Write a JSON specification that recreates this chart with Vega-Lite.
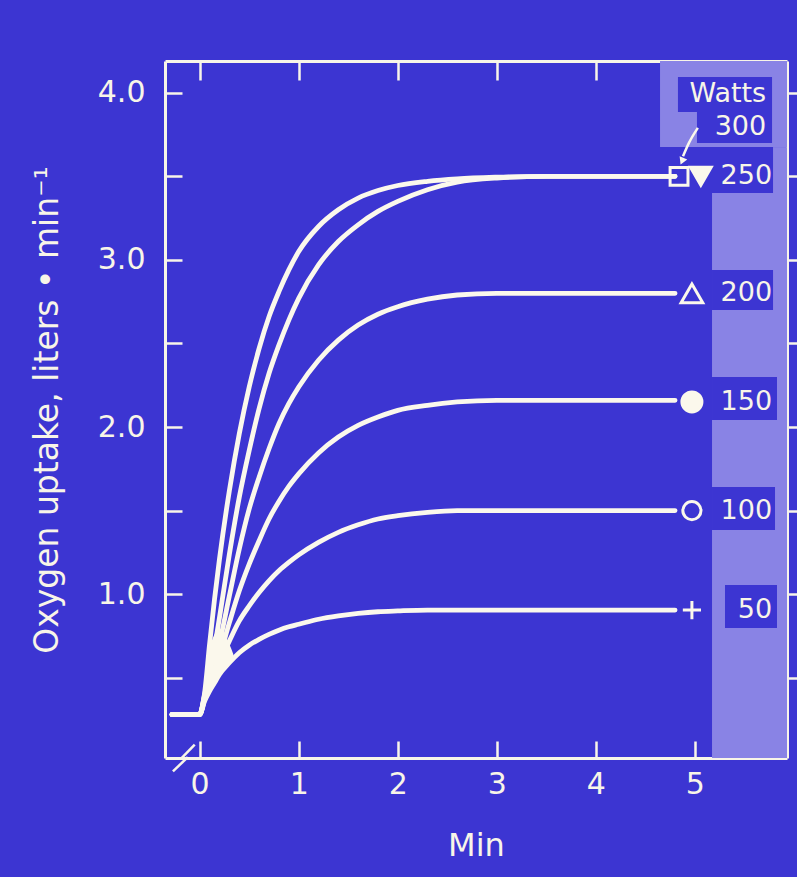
{
  "$schema": "https://vega.github.io/schema/vega-lite/v6.json",
  "width": 622,
  "height": 697,
  "autosize": {"type": "none"},
  "padding": {"left": 165, "top": 61, "right": 10, "bottom": 119},
  "background": "#3c35d2",
  "config": {
    "view": {"stroke": null},
    "font": "DejaVu Sans",
    "axis": {
      "domainColor": "#f8f5e8",
      "domainWidth": 3,
      "tickColor": "#f8f5e8",
      "tickWidth": 2.5,
      "labelColor": "#f8f5e8",
      "titleColor": "#f8f5e8",
      "labelFont": "DejaVu Sans",
      "titleFont": "DejaVu Sans",
      "titleFontWeight": "normal",
      "grid": false,
      "zindex": 1
    }
  },
  "datasets": {
    "curves": [
      {"w":"300","t":-0.28,"v":0.28},{"w":"300","t":0,"v":0.28},{"w":"300","t":0.05,"v":0.41},{"w":"300","t":0.1,"v":0.70},{"w":"300","t":0.15,"v":0.97},{"w":"300","t":0.2,"v":1.21},{"w":"300","t":0.3,"v":1.62},{"w":"300","t":0.4,"v":1.96},{"w":"300","t":0.5,"v":2.24},{"w":"300","t":0.6,"v":2.47},{"w":"300","t":0.7,"v":2.66},{"w":"300","t":0.8,"v":2.81},{"w":"300","t":0.9,"v":2.94},{"w":"300","t":1.0,"v":3.05},{"w":"300","t":1.2,"v":3.20},{"w":"300","t":1.4,"v":3.30},{"w":"300","t":1.6,"v":3.37},{"w":"300","t":1.8,"v":3.415},{"w":"300","t":2.0,"v":3.445},{"w":"300","t":2.3,"v":3.47},{"w":"300","t":2.6,"v":3.485},{"w":"300","t":3.0,"v":3.495},{"w":"300","t":3.5,"v":3.50},{"w":"300","t":4.0,"v":3.50},{"w":"300","t":4.8,"v":3.50},
      {"w":"250","t":-0.28,"v":0.28},{"w":"250","t":0,"v":0.28},{"w":"250","t":0.05,"v":0.40},{"w":"250","t":0.1,"v":0.53},{"w":"250","t":0.15,"v":0.68},{"w":"250","t":0.2,"v":0.86},{"w":"250","t":0.3,"v":1.24},{"w":"250","t":0.4,"v":1.58},{"w":"250","t":0.5,"v":1.86},{"w":"250","t":0.6,"v":2.11},{"w":"250","t":0.7,"v":2.32},{"w":"250","t":0.8,"v":2.49},{"w":"250","t":0.9,"v":2.64},{"w":"250","t":1.0,"v":2.77},{"w":"250","t":1.2,"v":2.97},{"w":"250","t":1.4,"v":3.11},{"w":"250","t":1.6,"v":3.21},{"w":"250","t":1.8,"v":3.29},{"w":"250","t":2.0,"v":3.35},{"w":"250","t":2.3,"v":3.42},{"w":"250","t":2.6,"v":3.465},{"w":"250","t":3.0,"v":3.49},{"w":"250","t":3.5,"v":3.50},{"w":"250","t":4.0,"v":3.50},{"w":"250","t":4.8,"v":3.50},
      {"w":"200","t":-0.28,"v":0.28},{"w":"200","t":0,"v":0.28},{"w":"200","t":0.05,"v":0.39},{"w":"200","t":0.1,"v":0.49},{"w":"200","t":0.15,"v":0.60},{"w":"200","t":0.2,"v":0.71},{"w":"200","t":0.3,"v":0.99},{"w":"200","t":0.4,"v":1.27},{"w":"200","t":0.5,"v":1.51},{"w":"200","t":0.6,"v":1.70},{"w":"200","t":0.7,"v":1.87},{"w":"200","t":0.8,"v":2.02},{"w":"200","t":0.9,"v":2.14},{"w":"200","t":1.0,"v":2.24},{"w":"200","t":1.2,"v":2.40},{"w":"200","t":1.4,"v":2.52},{"w":"200","t":1.6,"v":2.61},{"w":"200","t":1.8,"v":2.675},{"w":"200","t":2.0,"v":2.72},{"w":"200","t":2.3,"v":2.765},{"w":"200","t":2.6,"v":2.79},{"w":"200","t":3.0,"v":2.80},{"w":"200","t":3.5,"v":2.80},{"w":"200","t":4.0,"v":2.80},{"w":"200","t":4.8,"v":2.80},
      {"w":"150","t":-0.28,"v":0.28},{"w":"150","t":0,"v":0.28},{"w":"150","t":0.05,"v":0.38},{"w":"150","t":0.1,"v":0.46},{"w":"150","t":0.15,"v":0.55},{"w":"150","t":0.2,"v":0.63},{"w":"150","t":0.3,"v":0.83},{"w":"150","t":0.4,"v":1.02},{"w":"150","t":0.5,"v":1.18},{"w":"150","t":0.6,"v":1.32},{"w":"150","t":0.7,"v":1.45},{"w":"150","t":0.8,"v":1.555},{"w":"150","t":0.9,"v":1.645},{"w":"150","t":1.0,"v":1.72},{"w":"150","t":1.2,"v":1.845},{"w":"150","t":1.4,"v":1.94},{"w":"150","t":1.6,"v":2.01},{"w":"150","t":1.8,"v":2.06},{"w":"150","t":2.0,"v":2.10},{"w":"150","t":2.3,"v":2.13},{"w":"150","t":2.6,"v":2.15},{"w":"150","t":3.0,"v":2.16},{"w":"150","t":3.5,"v":2.16},{"w":"150","t":4.0,"v":2.16},{"w":"150","t":4.8,"v":2.16},
      {"w":"100","t":-0.28,"v":0.28},{"w":"100","t":0,"v":0.28},{"w":"100","t":0.05,"v":0.37},{"w":"100","t":0.1,"v":0.44},{"w":"100","t":0.15,"v":0.52},{"w":"100","t":0.2,"v":0.59},{"w":"100","t":0.3,"v":0.72},{"w":"100","t":0.4,"v":0.84},{"w":"100","t":0.5,"v":0.93},{"w":"100","t":0.6,"v":1.01},{"w":"100","t":0.7,"v":1.08},{"w":"100","t":0.8,"v":1.14},{"w":"100","t":0.9,"v":1.19},{"w":"100","t":1.0,"v":1.235},{"w":"100","t":1.2,"v":1.31},{"w":"100","t":1.4,"v":1.37},{"w":"100","t":1.6,"v":1.415},{"w":"100","t":1.8,"v":1.45},{"w":"100","t":2.0,"v":1.47},{"w":"100","t":2.3,"v":1.49},{"w":"100","t":2.6,"v":1.50},{"w":"100","t":3.0,"v":1.50},{"w":"100","t":3.5,"v":1.50},{"w":"100","t":4.0,"v":1.50},{"w":"100","t":4.8,"v":1.50},
      {"w":"50","t":-0.28,"v":0.28},{"w":"50","t":0,"v":0.28},{"w":"50","t":0.05,"v":0.36},{"w":"50","t":0.1,"v":0.42},{"w":"50","t":0.15,"v":0.47},{"w":"50","t":0.2,"v":0.52},{"w":"50","t":0.3,"v":0.59},{"w":"50","t":0.4,"v":0.65},{"w":"50","t":0.5,"v":0.695},{"w":"50","t":0.6,"v":0.73},{"w":"50","t":0.7,"v":0.76},{"w":"50","t":0.8,"v":0.785},{"w":"50","t":0.9,"v":0.805},{"w":"50","t":1.0,"v":0.82},{"w":"50","t":1.2,"v":0.85},{"w":"50","t":1.4,"v":0.87},{"w":"50","t":1.6,"v":0.885},{"w":"50","t":1.8,"v":0.895},{"w":"50","t":2.0,"v":0.90},{"w":"50","t":2.3,"v":0.905},{"w":"50","t":2.6,"v":0.905},{"w":"50","t":3.0,"v":0.905},{"w":"50","t":3.5,"v":0.905},{"w":"50","t":4.0,"v":0.905},{"w":"50","t":4.8,"v":0.905}
    ],
    "bundle": [
      {"t":0,"lo":0.28,"hi":0.29},
      {"t":0.05,"lo":0.36,"hi":0.41},
      {"t":0.1,"lo":0.42,"hi":0.66},
      {"t":0.15,"lo":0.47,"hi":0.76},
      {"t":0.2,"lo":0.52,"hi":0.79},
      {"t":0.25,"lo":0.555,"hi":0.76},
      {"t":0.3,"lo":0.59,"hi":0.70},
      {"t":0.34,"lo":0.615,"hi":0.64}
    ],
    "markers": [
      {"w":"50","t":4.97,"v":0.905},
      {"w":"100","t":4.97,"v":1.50},
      {"w":"150","t":4.97,"v":2.15},
      {"w":"200","t":4.97,"v":2.80},
      {"w":"300","t":4.84,"v":3.50},
      {"w":"250","t":5.06,"v":3.50}
    ],
    "labels": [
      {"label":"250","v":3.50},
      {"label":"200","v":2.80},
      {"label":"150","v":2.15},
      {"label":"100","v":1.50},
      {"label":"50","v":0.905}
    ],
    "header": [
      {"label":"Watts","v":3.99},
      {"label":"300","v":3.795}
    ],
    "arrow": [
      {"t":5.03,"v":3.79},
      {"t":4.94,"v":3.70},
      {"t":4.88,"v":3.62}
    ]
  },
  "resolve": {"axis": {"x": "independent", "y": "independent"}},
  "layer": [
    {
      "data": {"values": [{}]},
      "mark": {"type": "rect", "fill": "#8983e5"},
      "encoding": {
        "x": {"datum": 4.648, "type": "quantitative", "scale": {"domain": [-0.35, 5.93], "nice": false, "zero": false}, "axis": null},
        "x2": {"datum": 5.93},
        "y": {"datum": 3.675, "type": "quantitative", "scale": {"domain": [0.02, 4.19], "nice": false, "zero": false}, "axis": null},
        "y2": {"datum": 4.19}
      }
    },
    {
      "data": {"values": [{}]},
      "mark": {"type": "rect", "fill": "#8983e5"},
      "encoding": {
        "x": {"datum": 5.789, "type": "quantitative", "scale": {"domain": [-0.35, 5.93], "nice": false, "zero": false}, "axis": null},
        "x2": {"datum": 5.93},
        "y": {"datum": 3.40, "type": "quantitative", "scale": {"domain": [0.02, 4.19], "nice": false, "zero": false}, "axis": null},
        "y2": {"datum": 3.675}
      }
    },
    {
      "data": {"values": [{}]},
      "mark": {"type": "rect", "fill": "#8983e5"},
      "encoding": {
        "x": {"datum": 5.173, "type": "quantitative", "scale": {"domain": [-0.35, 5.93], "nice": false, "zero": false}, "axis": null},
        "x2": {"datum": 5.93},
        "y": {"datum": 0.02, "type": "quantitative", "scale": {"domain": [0.02, 4.19], "nice": false, "zero": false}, "axis": null},
        "y2": {"datum": 3.40}
      }
    },
    {
      "data": {"values": [{}]},
      "mark": {"type": "rect", "fill": "#3c35d2"},
      "encoding": {
        "x": {"datum": 4.829, "type": "quantitative", "scale": {"domain": [-0.35, 5.93], "nice": false, "zero": false}, "axis": null},
        "x2": {"datum": 5.779},
        "y": {"datum": 3.885, "type": "quantitative", "scale": {"domain": [0.02, 4.19], "nice": false, "zero": false}, "axis": null},
        "y2": {"datum": 4.094}
      }
    },
    {
      "data": {"values": [{}]},
      "mark": {"type": "rect", "fill": "#3c35d2"},
      "encoding": {
        "x": {"datum": 5.021, "type": "quantitative", "scale": {"domain": [-0.35, 5.93], "nice": false, "zero": false}, "axis": null},
        "x2": {"datum": 5.779},
        "y": {"datum": 3.699, "type": "quantitative", "scale": {"domain": [0.02, 4.19], "nice": false, "zero": false}, "axis": null},
        "y2": {"datum": 3.885}
      }
    },
    {
      "data": {"values": [{}]},
      "mark": {"type": "rect", "fill": "#3c35d2"},
      "encoding": {
        "x": {"datum": 5.173, "type": "quantitative", "scale": {"domain": [-0.35, 5.93], "nice": false, "zero": false}, "axis": null},
        "x2": {"datum": 5.789},
        "y": {"datum": 2.70, "type": "quantitative", "scale": {"domain": [0.02, 4.19], "nice": false, "zero": false}, "axis": null},
        "y2": {"datum": 2.94}
      }
    },
    {
      "data": {"values": [{}]},
      "mark": {"type": "rect", "fill": "#3c35d2"},
      "encoding": {
        "x": {"datum": 5.173, "type": "quantitative", "scale": {"domain": [-0.35, 5.93], "nice": false, "zero": false}, "axis": null},
        "x2": {"datum": 5.829},
        "y": {"datum": 2.042, "type": "quantitative", "scale": {"domain": [0.02, 4.19], "nice": false, "zero": false}, "axis": null},
        "y2": {"datum": 2.299}
      }
    },
    {
      "data": {"values": [{}]},
      "mark": {"type": "rect", "fill": "#3c35d2"},
      "encoding": {
        "x": {"datum": 5.173, "type": "quantitative", "scale": {"domain": [-0.35, 5.93], "nice": false, "zero": false}, "axis": null},
        "x2": {"datum": 5.809},
        "y": {"datum": 1.384, "type": "quantitative", "scale": {"domain": [0.02, 4.19], "nice": false, "zero": false}, "axis": null},
        "y2": {"datum": 1.641}
      }
    },
    {
      "data": {"values": [{}]},
      "mark": {"type": "rect", "fill": "#3c35d2"},
      "encoding": {
        "x": {"datum": 5.304, "type": "quantitative", "scale": {"domain": [-0.35, 5.93], "nice": false, "zero": false}, "axis": null},
        "x2": {"datum": 5.829},
        "y": {"datum": 0.798, "type": "quantitative", "scale": {"domain": [0.02, 4.19], "nice": false, "zero": false}, "axis": null},
        "y2": {"datum": 1.055}
      }
    },
    {
      "data": {"name": "bundle"},
      "mark": {"type": "area", "fill": "#fbf8ec", "interpolate": "monotone", "opacity": 1},
      "encoding": {
        "x": {"field": "t", "type": "quantitative", "scale": {"domain": [-0.35, 5.93], "nice": false, "zero": false}, "axis": null},
        "y": {"field": "lo", "type": "quantitative", "scale": {"domain": [0.02, 4.19], "nice": false, "zero": false}, "axis": null},
        "y2": {"field": "hi"}
      }
    },
    {
      "data": {"name": "curves"},
      "mark": {"type": "line", "stroke": "#fbf8ec", "strokeWidth": 4.8, "interpolate": "monotone", "strokeCap": "round", "strokeJoin": "round"},
      "encoding": {
        "x": {"field": "t", "type": "quantitative", "scale": {"domain": [-0.35, 5.93], "nice": false, "zero": false},
          "axis": {"orient": "bottom", "values": [0, 1, 2, 3, 4, 5], "format": "d", "tickSize": -17, "labelPadding": 28, "labelFontSize": 30, "title": "Min", "titleFontSize": 32, "titlePadding": 31}},
        "y": {"field": "v", "type": "quantitative", "scale": {"domain": [0.02, 4.19], "nice": false, "zero": false},
          "axis": {"orient": "left", "values": [0.5, 1, 1.5, 2, 2.5, 3, 3.5, 4], "labelExpr": "datum.value % 1 === 0 ? format(datum.value, '.1f') : ''", "tickSize": -17, "labelPadding": 37, "labelFontSize": 30, "title": "Oxygen uptake, liters • min⁻¹", "titleFontSize": 33, "titlePadding": 33}},
        "detail": {"field": "w", "type": "nominal"}
      }
    },
    {
      "data": {"name": "markers"},
      "mark": {"type": "point", "filled": true, "stroke": "#fbf8ec", "strokeWidth": 3, "opacity": 1},
      "encoding": {
        "x": {"field": "t", "type": "quantitative", "scale": {"domain": [-0.35, 5.93], "nice": false, "zero": false},
          "axis": {"orient": "top", "values": [0, 1, 2, 3, 4, 5], "tickSize": -19, "labels": false, "title": null}},
        "y": {"field": "v", "type": "quantitative", "scale": {"domain": [0.02, 4.19], "nice": false, "zero": false},
          "axis": {"orient": "right", "values": [0.5, 1, 1.5, 2, 2.5, 3, 3.5, 4], "tickSize": 10, "labels": false, "title": null}},
        "shape": {"field": "w", "type": "nominal", "legend": null,
          "scale": {"domain": ["50", "100", "150", "200", "250", "300"], "range": ["M-1,0H1M0,-1V1", "circle", "circle", "triangle-up", "triangle-down", "square"]}},
        "fill": {"field": "w", "type": "nominal", "legend": null,
          "scale": {"domain": ["50", "100", "150", "200", "250", "300"], "range": ["transparent", "transparent", "#fbf8ec", "transparent", "#fbf8ec", "transparent"]}},
        "size": {"field": "w", "type": "nominal", "legend": null,
          "scale": {"type": "ordinal", "domain": ["50", "100", "150", "200", "250", "300"], "range": [330, 330, 400, 470, 430, 320]}}
      }
    },
    {
      "data": {"name": "labels"},
      "mark": {"type": "text", "align": "right", "baseline": "middle", "fontSize": 27, "font": "DejaVu Sans", "fill": "#f8f5e8"},
      "encoding": {
        "x": {"datum": 5.78, "type": "quantitative", "scale": {"domain": [-0.35, 5.93], "nice": false, "zero": false}, "axis": null},
        "y": {"field": "v", "type": "quantitative", "scale": {"domain": [0.02, 4.19], "nice": false, "zero": false}, "axis": null},
        "text": {"field": "label"}
      }
    },
    {
      "data": {"name": "header"},
      "mark": {"type": "text", "align": "right", "baseline": "middle", "fontSize": 27, "font": "DejaVu Sans", "fill": "#f8f5e8"},
      "encoding": {
        "x": {"datum": 5.72, "type": "quantitative", "scale": {"domain": [-0.35, 5.93], "nice": false, "zero": false}, "axis": null},
        "y": {"field": "v", "type": "quantitative", "scale": {"domain": [0.02, 4.19], "nice": false, "zero": false}, "axis": null},
        "text": {"field": "label"}
      }
    },
    {
      "data": {"name": "arrow"},
      "mark": {"type": "line", "stroke": "#fbf8ec", "strokeWidth": 2.5, "interpolate": "monotone"},
      "encoding": {
        "x": {"field": "t", "type": "quantitative", "scale": {"domain": [-0.35, 5.93], "nice": false, "zero": false}, "axis": null},
        "y": {"field": "v", "type": "quantitative", "scale": {"domain": [0.02, 4.19], "nice": false, "zero": false}, "axis": null}
      }
    },
    {
      "data": {"values": [{}]},
      "mark": {"type": "point", "shape": "triangle-down", "filled": true, "fill": "#fbf8ec", "size": 70, "angle": 23, "opacity": 1},
      "encoding": {
        "x": {"datum": 4.87, "type": "quantitative", "scale": {"domain": [-0.35, 5.93], "nice": false, "zero": false}, "axis": null},
        "y": {"datum": 3.59, "type": "quantitative", "scale": {"domain": [0.02, 4.19], "nice": false, "zero": false}, "axis": null}
      }
    },
    {
      "data": {"values": [{}]},
      "mark": {"type": "rule", "stroke": "#f8f5e8", "strokeWidth": 2.5, "clip": false},
      "encoding": {
        "x": {"datum": -0.19, "type": "quantitative", "scale": {"domain": [-0.35, 5.93], "nice": false, "zero": false}, "axis": null},
        "x2": {"datum": -0.05},
        "y": {"datum": 0.015, "type": "quantitative", "scale": {"domain": [0.02, 4.19], "nice": false, "zero": false}, "axis": null},
        "y2": {"datum": 0.10}
      }
    },
    {
      "data": {"values": [{}]},
      "mark": {"type": "rule", "stroke": "#f8f5e8", "strokeWidth": 2.5, "clip": false},
      "encoding": {
        "x": {"datum": -0.27, "type": "quantitative", "scale": {"domain": [-0.35, 5.93], "nice": false, "zero": false}, "axis": null},
        "x2": {"datum": -0.12},
        "y": {"datum": -0.06, "type": "quantitative", "scale": {"domain": [0.02, 4.19], "nice": false, "zero": false}, "axis": null},
        "y2": {"datum": 0.025}
      }
    }
  ]
}
